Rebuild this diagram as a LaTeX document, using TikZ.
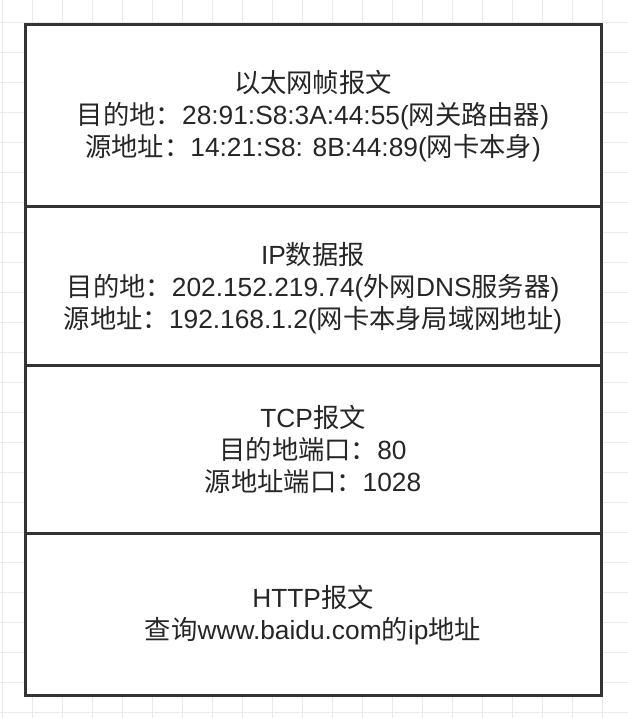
\documentclass[tikz,border=0pt]{standalone}
\usepackage{fontspec}
\setmainfont{Liberation Sans}
\newfontfamily\cjk{Noto Sans CJK SC}
\newcommand{\C}[1]{{\cjk #1}}
\definecolor{gridc}{RGB}{234,234,234}
\definecolor{boxc}{RGB}{51,51,51}
\begin{document}
\begin{tikzpicture}[x=1pt,y=-1pt,
  txt/.style={align=center,font=\fontsize{26.3}{32}\selectfont,text=black!85,inner sep=0pt}]
\useasboundingbox (0,0) rectangle (628,718);
\fill[white] (0,0) rectangle (628,718);
\foreach \i in {0,...,20} \draw[gridc,line width=1pt] (2+30*\i,0) -- (2+30*\i,718);
\foreach \i in {0,...,23} \draw[gridc,line width=1pt] (0,22.5+30*\i) -- (628,22.5+30*\i);
\draw[boxc,line width=3pt,fill=white] (25,24) rectangle (601.5,695);
\coordinate (L1) at (25,206); \coordinate (R1) at (601.5,206);
\coordinate (L2) at (25,365); \coordinate (R2) at (601.5,365);
\coordinate (L3) at (25,533); \coordinate (R3) at (601.5,533);
\draw[boxc,line width=3pt] (L1) -- (R1);
\draw[boxc,line width=3pt] (L2) -- (R2);
\draw[boxc,line width=3pt] (L3) -- (R3);
\node[txt] (eth) at (313,116.5) {\C{以太网帧报文}\\\C{目的地：}28:91:S8:3A:44:55(\C{网关路由器})\\\C{源地址：}14:21:S8: 8B:44:89(\C{网卡本身})};
\node[txt] (ip) at (313,288) {IP\C{数据报}\\\C{目的地：}202.152.219.74(\C{外网}DNS\C{服务器})\\\C{源地址：}192.168.1.2(\C{网卡本身局域网地址})};
\node[txt] (tcp) at (313,449) {TCP\C{报文}\\\C{目的地端口：}80\\\C{源地址端口：}1028};
\node[txt] (http) at (313,615.5) {HTTP\C{报文}\\\C{查询}www.baidu.com\C{的}ip\C{地址}};
\end{tikzpicture}
\end{document}
